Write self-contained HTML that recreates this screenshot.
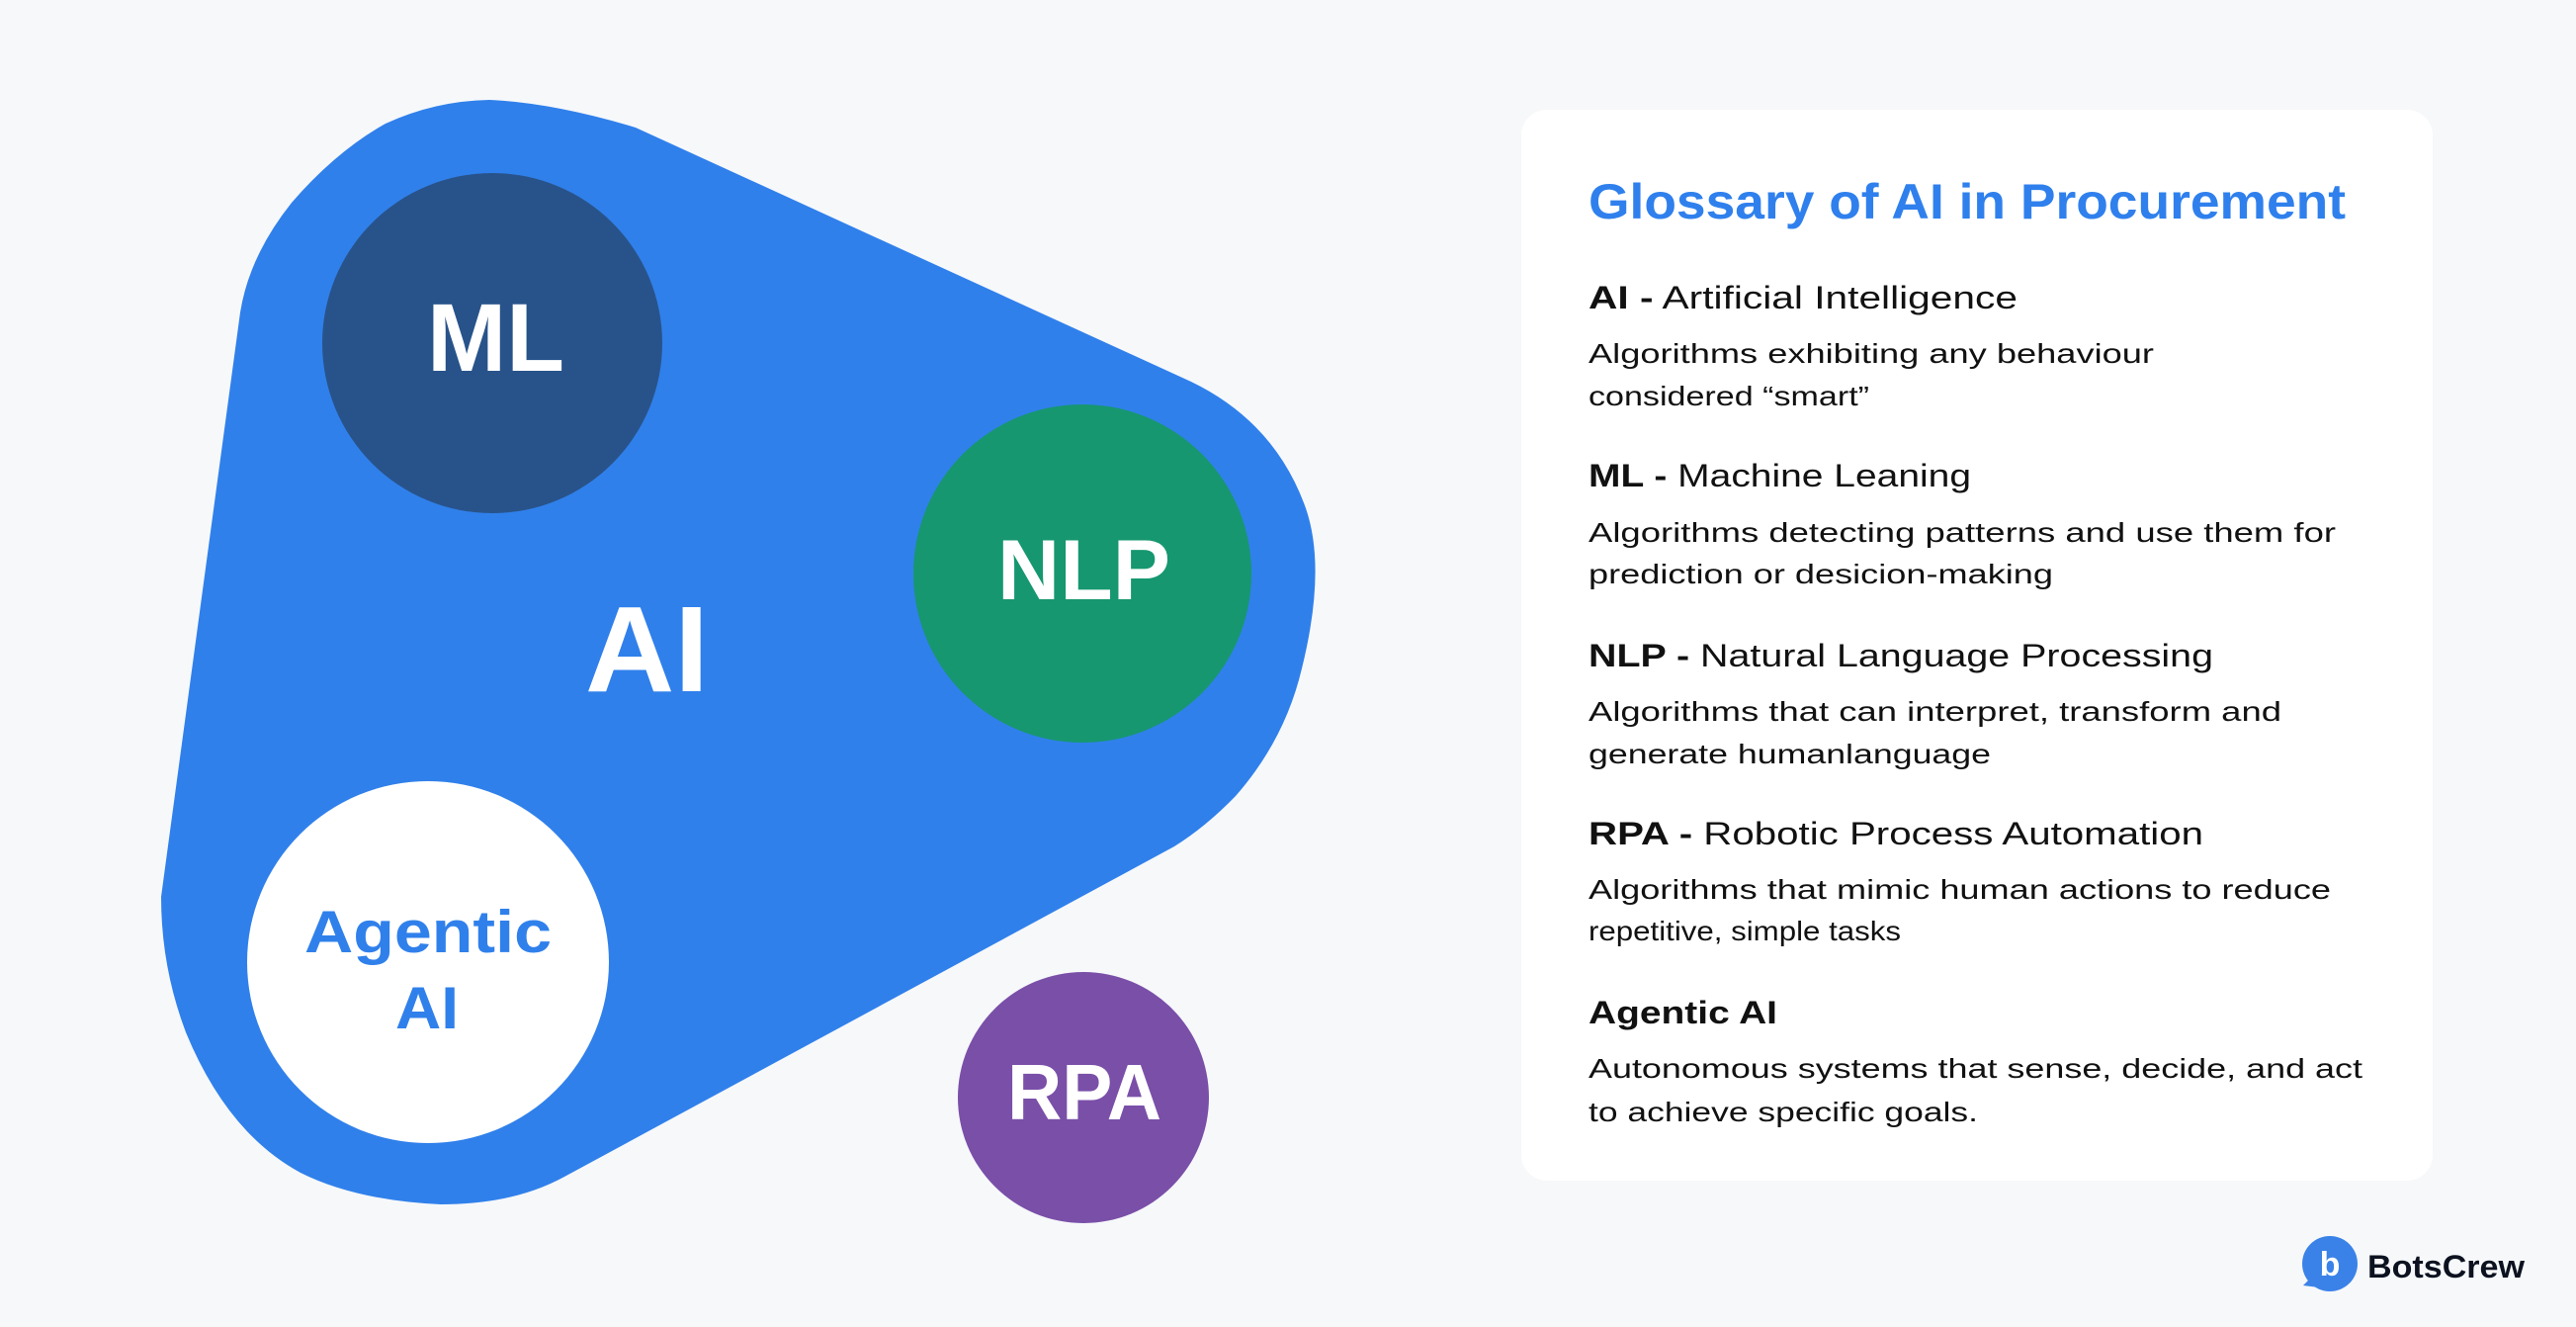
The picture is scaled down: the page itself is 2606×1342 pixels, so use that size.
<!DOCTYPE html>
<html><head><meta charset="utf-8"><style>html,body{margin:0;padding:0;background:#f6f8fa}svg{display:block}</style></head>
<body>
<svg width="2606" height="1342" viewBox="0 0 2606 1342" xmlns="http://www.w3.org/2000/svg">
<rect width="2606" height="1342" fill="#f6f8fa"/>
<path fill="#3080eb" d="M163,907 L243,316 Q252,259 295,205 Q340,153 390,125 Q440,102 495,101 Q560,104 643,129 L1205,386 Q1290,427 1321,514 Q1342,575 1317,676 Q1300,748 1250,805 Q1220,836 1188,856 L571,1190 Q520,1218 446,1218 Q360,1214 304,1186 Q230,1146 188,1044 Q163,978 163,907 Z"/>
<circle cx="498" cy="347" r="172" fill="#28538a"/>
<circle cx="1095" cy="580" r="171" fill="#16976f"/>
<circle cx="433" cy="973" r="183" fill="#ffffff"/>
<circle cx="1096" cy="1110" r="127" fill="#7a4fa8"/>
<g font-family="Liberation Sans, sans-serif" font-weight="bold" fill="#fff">
<text x="432" y="375" font-size="97" textLength="139" lengthAdjust="spacingAndGlyphs">ML</text>
<text x="1009" y="606" font-size="86" textLength="175" lengthAdjust="spacingAndGlyphs">NLP</text>
<text x="592" y="699" font-size="123" textLength="125" lengthAdjust="spacingAndGlyphs">AI</text>
<text x="1019" y="1132" font-size="80" textLength="156" lengthAdjust="spacingAndGlyphs">RPA</text>
<text x="308" y="963" font-size="60" fill="#3080eb" textLength="250" lengthAdjust="spacingAndGlyphs">Agentic</text>
<text x="400" y="1040" font-size="60" fill="#3080eb" textLength="64" lengthAdjust="spacingAndGlyphs">AI</text>
</g>
<rect x="1539" y="111" width="922" height="1083" rx="26" fill="#fff"/>
<g font-family="Liberation Sans, sans-serif" fill="#111">
<text x="1607" y="221" font-size="50" font-weight="bold" fill="#2f80ed" textLength="766" lengthAdjust="spacingAndGlyphs">Glossary of AI in Procurement</text>
<text x="1607" y="312" font-size="32" textLength="434" lengthAdjust="spacingAndGlyphs"><tspan font-weight="bold">AI -</tspan> Artificial Intelligence</text>
<text x="1607" y="367" font-size="28" textLength="572" lengthAdjust="spacingAndGlyphs">Algorithms exhibiting any behaviour</text>
<text x="1607" y="410" font-size="28" textLength="284" lengthAdjust="spacingAndGlyphs">considered “smart”</text>
<text x="1607" y="492" font-size="32" textLength="387" lengthAdjust="spacingAndGlyphs"><tspan font-weight="bold">ML -</tspan> Machine Leaning</text>
<text x="1607" y="548" font-size="28" textLength="756" lengthAdjust="spacingAndGlyphs">Algorithms detecting patterns and use them for</text>
<text x="1607" y="590" font-size="28" textLength="470" lengthAdjust="spacingAndGlyphs">prediction or desicion-making</text>
<text x="1607" y="674" font-size="32" textLength="632" lengthAdjust="spacingAndGlyphs"><tspan font-weight="bold">NLP -</tspan> Natural Language Processing</text>
<text x="1607" y="729" font-size="28" textLength="701" lengthAdjust="spacingAndGlyphs">Algorithms that can interpret, transform and</text>
<text x="1607" y="772" font-size="28" textLength="407" lengthAdjust="spacingAndGlyphs">generate humanlanguage</text>
<text x="1607" y="854" font-size="32" textLength="622" lengthAdjust="spacingAndGlyphs"><tspan font-weight="bold">RPA -</tspan> Robotic Process Automation</text>
<text x="1607" y="909" font-size="28" textLength="751" lengthAdjust="spacingAndGlyphs">Algorithms that mimic human actions to reduce</text>
<text x="1607" y="951" font-size="28" textLength="316" lengthAdjust="spacingAndGlyphs">repetitive, simple tasks</text>
<text x="1607" y="1035" font-size="32" font-weight="bold" textLength="191" lengthAdjust="spacingAndGlyphs">Agentic AI</text>
<text x="1607" y="1090" font-size="28" textLength="783" lengthAdjust="spacingAndGlyphs">Autonomous systems that sense, decide, and act</text>
<text x="1607" y="1134" font-size="28" textLength="394" lengthAdjust="spacingAndGlyphs">to achieve specific goals.</text>
</g>
<circle cx="2357" cy="1278" r="28" fill="#3a82e8"/>
<path d="M2336,1294 L2330,1300 L2346,1302 Z" fill="#3a82e8"/>
<text x="2357" y="1290" font-family="Liberation Sans, sans-serif" font-weight="bold" font-size="34" fill="#fff" text-anchor="middle">b</text>
<text x="2395" y="1292" font-family="Liberation Sans, sans-serif" font-weight="bold" font-size="32" fill="#0d1220" textLength="159" lengthAdjust="spacingAndGlyphs">BotsCrew</text>
</svg>
</body></html>
